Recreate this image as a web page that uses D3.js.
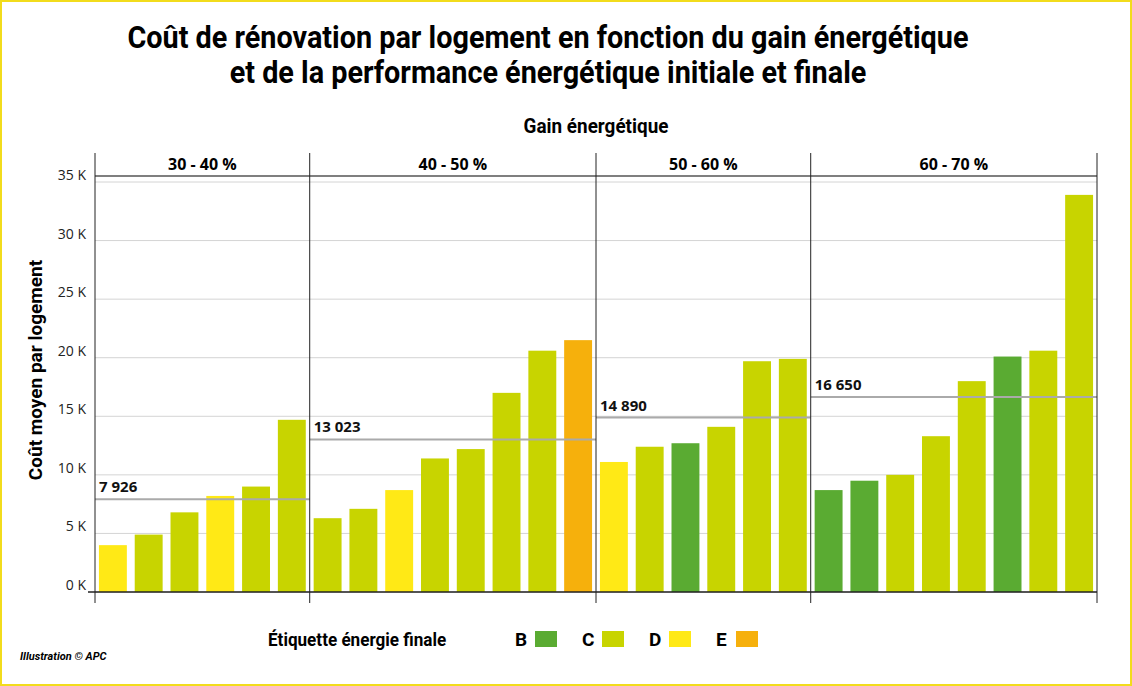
<!DOCTYPE html>
<html lang="fr">
<head>
<meta charset="UTF-8">
<title>Coût de rénovation</title>
<script src="https://d3js.org/d3.v7.min.js"></script>
<style>
  body { margin: 0; background: #fff; }
  svg { display: block; }
  .cond { font-family: "Roboto", sans-serif; font-weight: bold; }
  .sans { font-family: "Open Sans", sans-serif; }
</style>
</head>
<body>
<div id="chart"></div>
<script>
const groups = ["30 - 40 %", "40 - 50 %", "50 - 60 %", "60 - 70 %"];
const values = [
  [4000, 4900, 6800, 8200, 9000, 14700],
  [6300, 7100, 8700, 11400, 12200, 17000, 20600, 21500],
  [11100, 12400, 12700, 14100, 19700, 19900],
  [8700, 9500, 10000, 13300, 18000, 20100, 20600, 33900]
];
const labels = [
  ["D", "C", "C", "D", "C", "C"],
  ["C", "C", "D", "C", "C", "C", "C", "E"],
  ["D", "C", "B", "C", "C", "C"],
  ["B", "B", "C", "C", "C", "B", "C", "C"]
];
const means = [7926, 13023, 14890, 16650];
const meanLabels = ["7 926", "13 023", "14 890", "16 650"];
const yTicks = [0, 5000, 10000, 15000, 20000, 25000, 30000, 35000];
const legendKeys = ["B", "C", "D", "E"];
const colors = { B: "#5aab32", C: "#c8d400", D: "#ffe916", E: "#f6b00c" };

const W = 1132, H = 686;
const svg = d3.select("#chart").append("svg").attr("width", W).attr("height", H);
svg.append("rect").attr("x", 1).attr("y", 1).attr("width", W - 2).attr("height", H - 2)
  .attr("fill", "#fff").attr("stroke", "#f2dc1c").attr("stroke-width", 2);

// flatten bars
const bars = [];
values.forEach((vals, g) => vals.forEach((v, i) => bars.push({ g, i, v, lab: labels[g][i], id: g + "-" + i })));

const x = d3.scaleBand().domain(bars.map(d => d.id)).range([95, 1097]).paddingInner(0.22).paddingOuter(0.11);
const y = d3.scaleLinear().domain([0, 35000]).range([592, 182]);

// condensed look: squeeze text horizontally
function condText(xc, yc, size, str, sx, anchor) {
  return svg.append("text").attr("class", "cond")
    .attr("transform", `translate(${xc},${yc}) scale(${sx},1)`)
    .attr("text-anchor", anchor || "middle").attr("font-size", size).text(str);
}

// titles
condText(548, 48, 32, "Coût de rénovation par logement en fonction du gain énergétique", 0.9);
condText(548, 83, 32, "et de la performance énergétique initiale et finale", 0.9);
condText(596, 133, 21, "Gain énergétique", 0.9);

// gridlines
svg.append("g").selectAll("line").data(yTicks).join("line")
  .attr("x1", 95).attr("x2", 1097).attr("y1", d => y(d)).attr("y2", d => y(d))
  .attr("stroke", "#d4d4d4");

// y axis labels
svg.append("g").attr("class", "sans").selectAll("text").data(yTicks).join("text")
  .attr("x", 86).attr("y", d => y(d) - 2).attr("text-anchor", "end").attr("font-size", 14)
  .attr("fill", "#222").text(d => (d / 1000) + " K");
svg.append("text").attr("class", "cond").attr("transform", "translate(42,370) rotate(-90)")
  .attr("text-anchor", "middle").attr("font-size", 19).text("Coût moyen par logement");

// group bounds
const bounds = groups.map((_, g) => {
  const ids = bars.filter(d => d.g === g).map(d => d.id);
  const step = x.step();
  return [x(ids[0]) - (step - x.bandwidth()) / 2, x(ids[ids.length - 1]) + x.bandwidth() + (step - x.bandwidth()) / 2];
});
bounds[0][0] = 95; bounds[3][1] = 1097;

// bars
svg.append("g").selectAll("rect").data(bars).join("rect")
  .attr("x", d => x(d.id)).attr("width", x.bandwidth())
  .attr("y", d => y(d.v)).attr("height", d => y(0) - y(d.v))
  .attr("fill", d => colors[d.lab]);

// means
means.forEach((m, g) => {
  svg.append("line").attr("x1", bounds[g][0]).attr("x2", bounds[g][1])
    .attr("y1", y(m)).attr("y2", y(m)).attr("stroke", "#aaa").attr("stroke-width", 2);
  svg.append("text").attr("class", "sans").attr("x", bounds[g][0] + 4).attr("y", y(m) - 7)
    .attr("font-size", 15).attr("font-weight", "bold").attr("fill", "#111").text(meanLabels[g]);
});

// header band + dividers
svg.append("line").attr("x1", 95).attr("x2", 1097).attr("y1", 176).attr("y2", 176).attr("stroke", "#555").attr("stroke-width", 1.5);
const divs = [95].concat(bounds.map(b => b[1]));
svg.append("g").selectAll("line").data(divs).join("line")
  .attr("x1", d => d).attr("x2", d => d).attr("y1", 153).attr("y2", 603)
  .attr("stroke", "#222").attr("stroke-width", 1);
svg.append("line").attr("x1", 88).attr("x2", 1097).attr("y1", 592).attr("y2", 592).attr("stroke", "#222").attr("stroke-width", 1.5);
svg.append("g").attr("class", "sans").selectAll("text").data(groups).join("text")
  .attr("x", (d, g) => (bounds[g][0] + bounds[g][1]) / 2).attr("y", 170)
  .attr("text-anchor", "middle").attr("font-size", 16).attr("font-weight", "bold").text(d => d);

// legend
condText(268, 646, 19, "Étiquette énergie finale", 0.9, "start");
const lg = svg.append("g").selectAll("g").data(legendKeys).join("g")
  .attr("transform", (d, i) => `translate(${515 + i * 67},0)`);
lg.append("text").attr("class", "cond").attr("y", 646).attr("font-size", 19).text(d => d);
lg.append("rect").attr("x", 20).attr("y", 631).attr("width", 22).attr("height", 16).attr("fill", d => colors[d]);

svg.append("text").attr("x", 20).attr("y", 660).attr("font-family", "Roboto, sans-serif")
  .attr("font-style", "italic").attr("font-weight", "bold").attr("font-size", 11).text("Illustration © APC");
</script>
</body>
</html>
